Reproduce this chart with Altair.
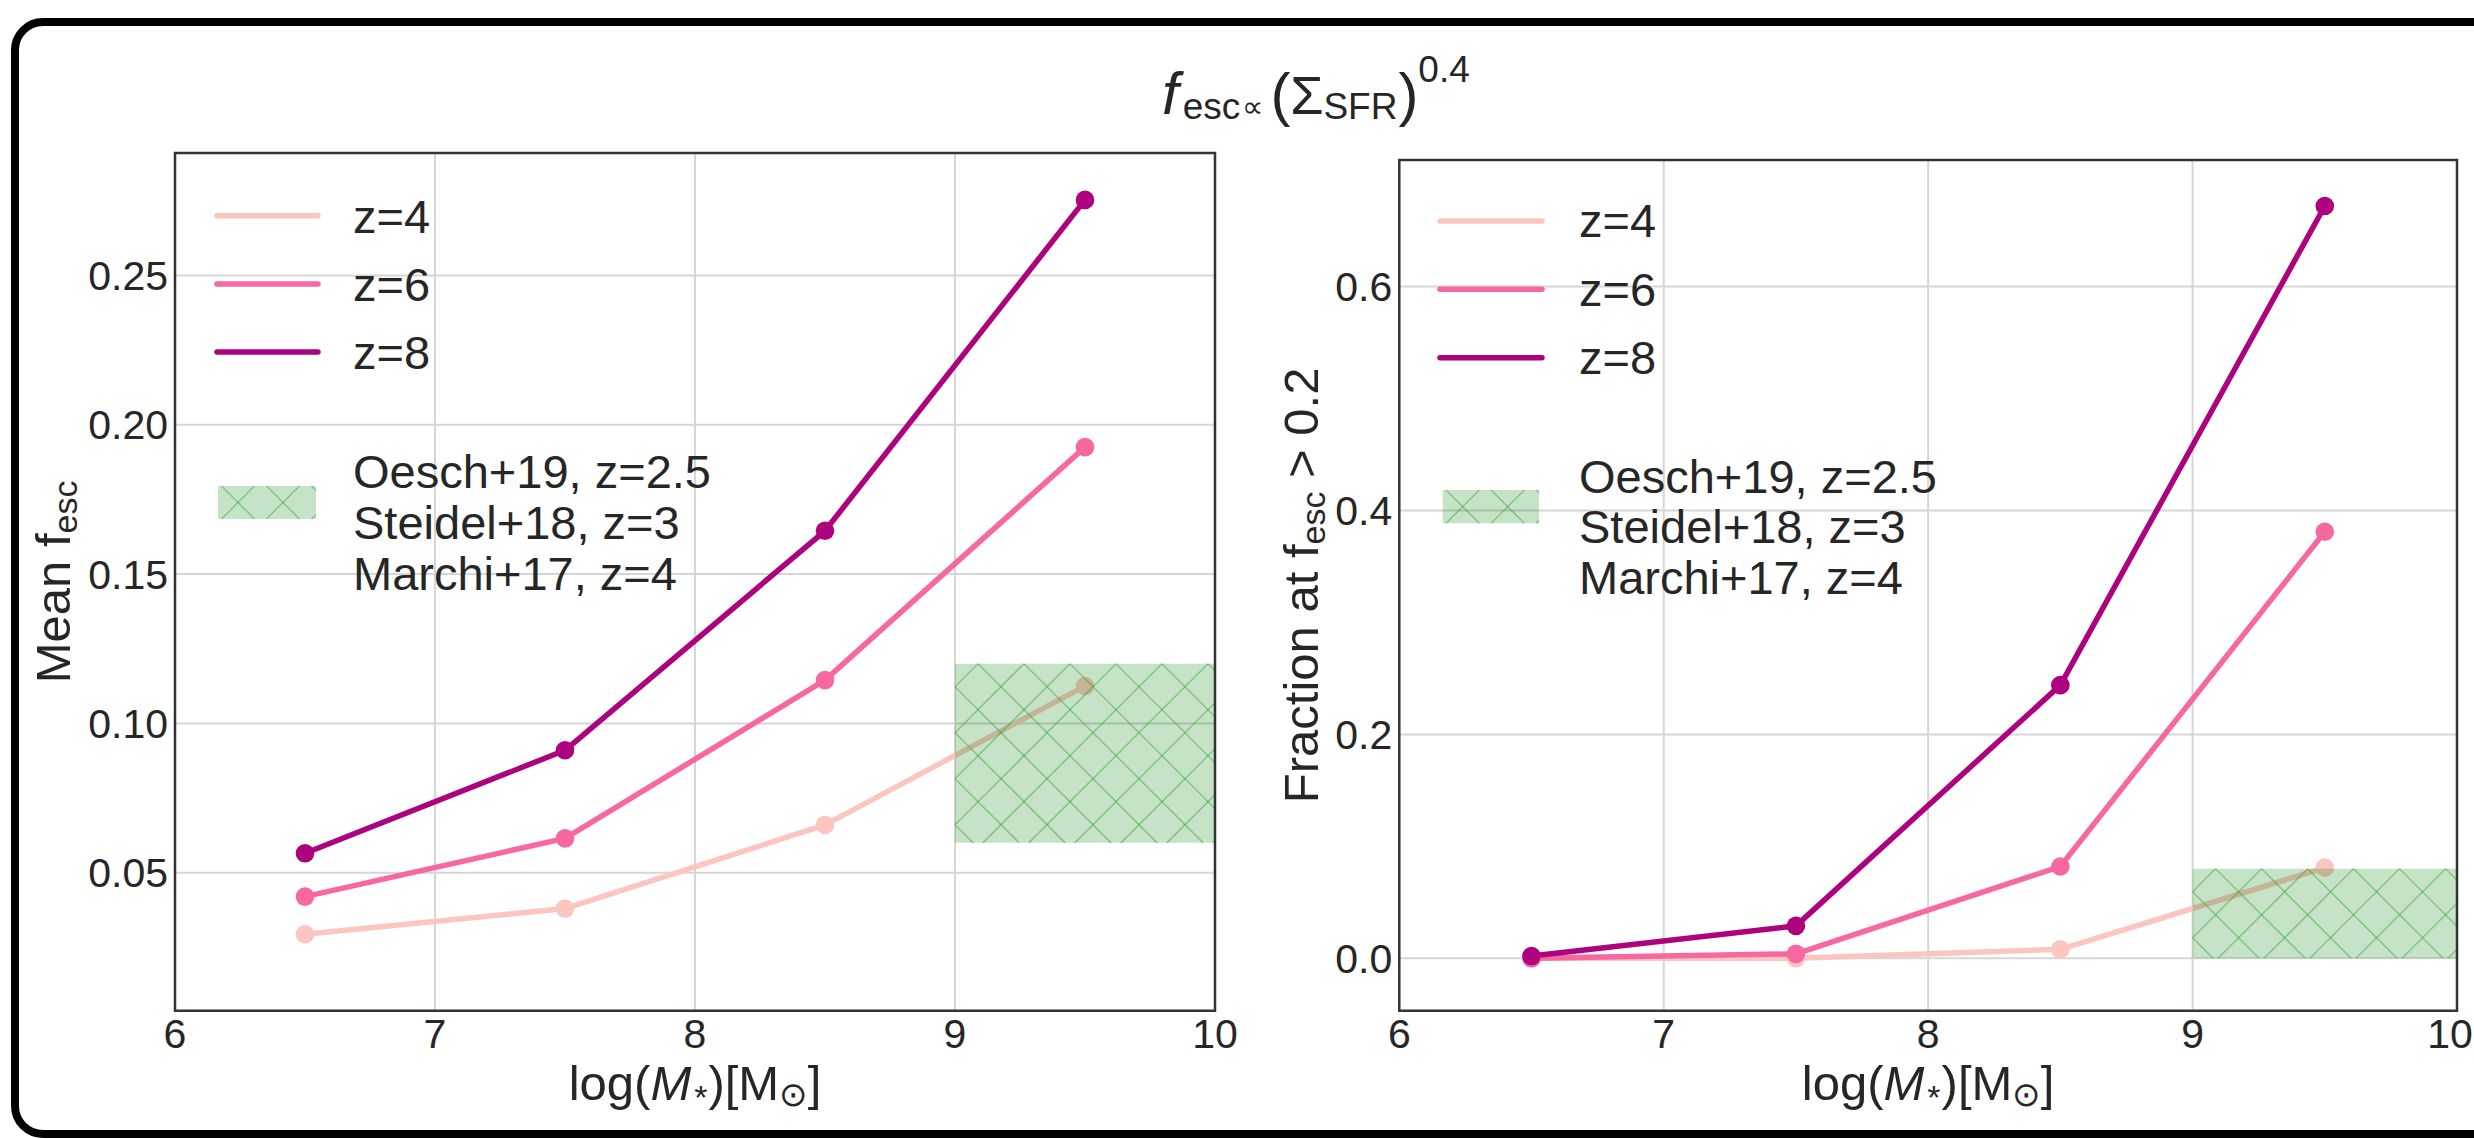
import altair as alt
import numpy as np
import pandas as pd

# ------------------------------------------------------------------ data
log_mass = [6.5, 7.5, 8.5, 9.5]
redshifts = ["z=4", "z=6", "z=8"]
line_colors = ["#fcc5c0", "#f768a1", "#ae017e"]

# mean escape fraction per stellar-mass bin
mean_fesc_z4 = [0.0294, 0.038, 0.066, 0.1125]
mean_fesc_z6 = [0.042, 0.0615, 0.1145, 0.1925]
mean_fesc_z8 = [0.0565, 0.091, 0.1645, 0.2753]

# fraction of galaxies with f_esc > 0.2
frac_fesc_z4 = [0.0, 0.0, 0.008, 0.081]
frac_fesc_z6 = [0.0, 0.004, 0.082, 0.381]
frac_fesc_z8 = [0.002, 0.029, 0.244, 0.672]

# observational constraints (shaded band)
obs_mass_range = [9.0, 10.0]
obs_mean_range = [0.06, 0.12]
obs_frac_range = [0.0, 0.08]
obs_labels = ["Oesch+19, z=2.5", "Steidel+18, z=3", "Marchi+17, z=4"]

mass_ticks = [6, 7, 8, 9, 10]
mass_tick_labels = ["6", "7", "8", "9", "10"]
mean_ticks = [0.05, 0.10, 0.15, 0.20, 0.25]
mean_tick_labels = ["0.05", "0.10", "0.15", "0.20", "0.25"]
frac_ticks = [0.0, 0.2, 0.4, 0.6]
frac_tick_labels = ["0.0", "0.2", "0.4", "0.6"]
mean_domain = [0.0038, 0.291]
frac_domain = [-0.0468, 0.7131]

# ------------------------------------------------------------------ style
CANVAS_W, CANVAS_H = 2474, 1139
FONT = "Liberation Sans"
INK = "#262626"
GRID = "#d6d6d6"
SPINE = "#333333"
OBS_FILL = "#008000"
HATCH = "#2ca02c"
TICK_FS = 41
LEGEND_FS = 47
LABEL_FS = 49
SUB_FS = 34

# plot areas on the canvas: (left, right, bottom, top) in pixels
LEFT_BOX = (175.0, 1215.0, 1010.7, 153.0)
RIGHT_BOX = (1399.3, 2457.0, 1010.7, 160.0)
XTICK_BASELINE = 1048.0

# Arial-compatible advance widths (em) used to chain rich-text pieces
GLYPH_EM = {
    " ": 0.278, "(": 0.333, ")": 0.333, "[": 0.278, "]": 0.278, "*": 0.389,
    "+": 0.584, ",": 0.278, ".": 0.278, "=": 0.584, ">": 0.584,
    "F": 0.611, "M": 0.833, "R": 0.722, "S": 0.667, "\u03a3": 0.593,
    "\u221d": 0.838, "\u2299": 0.838,
    "a": 0.556, "c": 0.5, "e": 0.556, "f": 0.278, "g": 0.556, "i": 0.222,
    "l": 0.222, "n": 0.556, "o": 0.556, "r": 0.333, "s": 0.5, "t": 0.278,
    "z": 0.5,
}


def tw(s, size):
    return sum(GLYPH_EM.get(ch, 0.556) for ch in s) * size


def run_len(pieces):
    return sum(tw(t, s) + g for t, s, _, _, g in pieces)


def run(pieces, x, y, vertical=False):
    """Lay out (text, size, baseline shift, italic, gap) pieces one after another."""
    normal, italic = [], []
    pos = y if vertical else x
    for text, size, shift, ital, gap in pieces:
        if vertical:
            row = {"px": x + shift, "py": pos, "t": text, "fs": size, "ang": 270}
            pos -= tw(text, size) + gap
        else:
            row = {"px": pos, "py": y + shift, "t": text, "fs": size, "ang": 0}
            pos += tw(text, size) + gap
        (italic if ital else normal).append(row)
    return normal, italic


def text_layer(rows, italic=False):
    df = pd.DataFrame(rows, columns=["px", "py", "t", "fs", "ang"])
    return alt.Chart(df).mark_text(
        align="left", baseline="alphabetic", font=FONT, color=INK,
        fontStyle="italic" if italic else "normal",
    ).encode(
        x=alt.X("px:Q", scale=None, axis=None),
        y=alt.Y("py:Q", scale=None, axis=None),
        text="t:N",
        size=alt.Size("fs:Q", scale=None, legend=None),
        angle=alt.Angle("ang:Q", scale=None, legend=None),
    )


def hatch_lines(x0, x1, y0, y1, period, anchor):
    """Crossed diagonal hatch segments clipped to a pixel rectangle."""
    ax, ay = anchor
    segs = []
    for slope in (1.0, -1.0):
        c_ref = ay - slope * ax
        cs = [yy - slope * xx for xx in (x0, x1) for yy in (y0, y1)]
        k0 = int(np.ceil((min(cs) - c_ref) / period))
        k1 = int(np.floor((max(cs) - c_ref) / period))
        for k in range(k0, k1 + 1):
            c = c_ref + k * period
            xa, xb = (y0 - c) / slope, (y1 - c) / slope
            lo, hi = max(x0, min(xa, xb)), min(x1, max(xa, xb))
            if hi - lo > 0.5:
                segs.append((lo, slope * lo + c, hi, slope * hi + c))
    return segs


def long_table(series):
    rows = []
    for z, vals in zip(redshifts, series):
        for m, v in zip(log_mass, vals):
            rows.append({"mass": m, "value": v, "z": z})
    return pd.DataFrame(rows)


def panel(series, obs_range, yticks, ytick_labels, ydomain, box, last_dx=0):
    x0, x1, ybot, ytop = box
    m_lo, m_hi = mass_ticks[0], mass_ticks[-1]
    v_lo, v_hi = ydomain
    xs = alt.Scale(domain=[m_lo, m_hi], range=[x0, x1], nice=False, zero=False)
    ys = alt.Scale(domain=[v_lo, v_hi], range=[ybot, ytop], nice=False, zero=False)
    color = alt.Color("z:N", scale=alt.Scale(domain=redshifts, range=line_colors), legend=None)

    # gridlines
    gx = pd.DataFrame({"m": mass_ticks[1:-1], "lo": v_lo, "hi": v_hi})
    grid_v = alt.Chart(gx).mark_rule(color=GRID, strokeWidth=2).encode(
        x=alt.X("m:Q", scale=xs, axis=None),
        y=alt.Y("lo:Q", scale=ys, axis=None),
        y2="hi:Q",
    )
    gy = pd.DataFrame({"v": yticks, "lo": m_lo, "hi": m_hi})
    grid_h = alt.Chart(gy).mark_rule(color=GRID, strokeWidth=2).encode(
        x=alt.X("lo:Q", scale=xs, axis=None),
        x2="hi:Q",
        y=alt.Y("v:Q", scale=ys, axis=None),
    )

    # tick labels placed through the panel scales
    def xlabel_layer(vals, labs, dx):
        xl = pd.DataFrame({"v": vals, "lab": labs})
        return alt.Chart(xl).mark_text(
            align="center", baseline="alphabetic", dx=dx,
            font=FONT, fontSize=TICK_FS, color=INK,
        ).encode(x=alt.X("v:Q", scale=xs, axis=None), y=alt.value(XTICK_BASELINE), text="lab:N")

    xlabels = xlabel_layer(mass_ticks[:-1], mass_tick_labels[:-1], 0)
    xlabel_last = xlabel_layer(mass_ticks[-1:], mass_tick_labels[-1:], last_dx)

    yl = pd.DataFrame({"v": yticks, "lab": ytick_labels})
    ylabels = alt.Chart(yl).mark_text(
        align="right", baseline="alphabetic", dy=14.5, font=FONT, fontSize=TICK_FS, color=INK
    ).encode(x=alt.value(x0 - 7), y=alt.Y("v:Q", scale=ys, axis=None), text="lab:N")

    df = long_table(series)
    enc = dict(
        x=alt.X("mass:Q", scale=xs, axis=None),
        y=alt.Y("value:Q", scale=ys, axis=None),
        color=color,
    )
    lines = alt.Chart(df).mark_line(strokeWidth=5.5, strokeCap="round", strokeJoin="round").encode(**enc)
    points = alt.Chart(df).mark_circle(size=346, opacity=1).encode(**enc)

    ob = pd.DataFrame({"m0": [obs_mass_range[0]], "m1": [obs_mass_range[1]],
                       "v0": [obs_range[0]], "v1": [obs_range[1]]})
    band = alt.Chart(ob).mark_rect(fill=OBS_FILL, fillOpacity=0.22, strokeWidth=0).encode(
        x=alt.X("m0:Q", scale=xs, axis=None), x2="m1:Q",
        y=alt.Y("v0:Q", scale=ys, axis=None), y2="v1:Q",
    )

    # hatch texture: 45-degree lines in screen space, expressed in data units
    def to_px(m):
        return x0 + (m - m_lo) / (m_hi - m_lo) * (x1 - x0)

    def to_py(v):
        return ybot - (v - v_lo) / (v_hi - v_lo) * (ybot - ytop)

    def from_px(p):
        return m_lo + (p - x0) / (x1 - x0) * (m_hi - m_lo)

    def from_py(p):
        return v_lo + (ybot - p) / (ybot - ytop) * (v_hi - v_lo)

    bx0, bx1 = to_px(obs_mass_range[0]), to_px(obs_mass_range[1])
    by0, by1 = to_py(obs_range[1]), to_py(obs_range[0])
    segs = hatch_lines(bx0, bx1, by0, by1, 46, (bx0 + 23, by0))
    hd = pd.DataFrame([{"a": from_px(a), "b": from_py(b), "c": from_px(c), "d": from_py(d)}
                       for a, b, c, d in segs])
    hatch = alt.Chart(hd).mark_rule(color=HATCH, strokeWidth=1.5, opacity=0.45).encode(
        x=alt.X("a:Q", scale=xs, axis=None), y=alt.Y("b:Q", scale=ys, axis=None),
        x2="c:Q", y2="d:Q",
    )

    fr = pd.DataFrame({"m0": [m_lo], "m1": [m_hi], "v0": [v_lo], "v1": [v_hi]})
    frame = alt.Chart(fr).mark_rect(fill="transparent", stroke=SPINE, strokeWidth=2.5).encode(
        x=alt.X("m0:Q", scale=xs, axis=None), x2="m1:Q",
        y=alt.Y("v0:Q", scale=ys, axis=None), y2="v1:Q",
    )
    return alt.layer(grid_h, grid_v, lines, points, band, hatch, frame,
                     xlabels, xlabel_last, ylabels)


def legend(line_x, line_ys, text_x, text_ys, patch, obs_ys):
    lx0, lx1 = line_x
    ld = pd.DataFrame({"x0": lx0, "x1": lx1, "y": line_ys, "c": line_colors})
    swatches = alt.Chart(ld).mark_rule(strokeWidth=5.5, strokeCap="round").encode(
        x=alt.X("x0:Q", scale=None, axis=None), x2="x1:Q",
        y=alt.Y("y:Q", scale=None, axis=None),
        color=alt.Color("c:N", scale=None, legend=None),
    )
    px0, px1, py0, py1 = patch
    pd_ = pd.DataFrame({"x0": [px0], "x1": [px1], "y0": [py0], "y1": [py1]})
    patch_rect = alt.Chart(pd_).mark_rect(fill=OBS_FILL, fillOpacity=0.22, strokeWidth=0).encode(
        x=alt.X("x0:Q", scale=None, axis=None), x2="x1:Q",
        y=alt.Y("y0:Q", scale=None, axis=None), y2="y1:Q",
    )
    segs = hatch_lines(px0, px1, py0, py1, 45, (px0 + 20, (py0 + py1) / 2))
    hd = pd.DataFrame(segs, columns=["a", "b", "c", "d"])
    patch_hatch = alt.Chart(hd).mark_rule(color=HATCH, strokeWidth=1.5, opacity=0.45).encode(
        x=alt.X("a:Q", scale=None, axis=None), y=alt.Y("b:Q", scale=None, axis=None),
        x2="c:Q", y2="d:Q",
    )
    rows = [{"px": text_x, "py": y, "t": t, "fs": LEGEND_FS, "ang": 0}
            for y, t in zip(text_ys, redshifts)]
    rows += [{"px": text_x, "py": y, "t": t, "fs": LEGEND_FS, "ang": 0}
             for y, t in zip(obs_ys, obs_labels)]
    return [swatches, patch_rect, patch_hatch, text_layer(rows)]


left_panel = panel([mean_fesc_z4, mean_fesc_z6, mean_fesc_z8], obs_mean_range,
                   mean_ticks, mean_tick_labels, mean_domain, LEFT_BOX)
# the last tick label of the right panel sits at the canvas edge: nudge it inside
right_panel = panel([frac_fesc_z4, frac_fesc_z6, frac_fesc_z8], obs_frac_range,
                    frac_ticks, frac_tick_labels, frac_domain, RIGHT_BOX, last_dx=-7)

left_legend = legend((217, 318), [215.7, 284.0, 352.0], 353, [233.0, 301.3, 369.3],
                     (218, 316, 486, 519), [488.0, 539.0, 590.0])
right_legend = legend((1440, 1542), [221.0, 289.3, 357.7], 1579, [237.3, 305.6, 374.0],
                      (1442.7, 1539, 490, 523.3), [492.7, 543.3, 594.0])

# ---- rich-text titles
normal_rows, italic_rows = [], []

title_pieces = [("f", 60, 0, True, 4), ("esc", 37, 5, False, 2), ("\u221d", 30, 3, False, 3),
                ("(", 60, 1, False, 0), ("\u03a3", 54, 0, False, 1), ("SFR", 37, 5, False, 1),
                (")", 60, 1, False, 0), ("0.4", 37, -32, False, 0)]
n, i = run(title_pieces, 1162, 114)
normal_rows += n
italic_rows += i

for box in (LEFT_BOX, RIGHT_BOX):
    xt = [("log(", LABEL_FS, 0, False, 0), ("M", LABEL_FS, 0, True, 3), ("*", SUB_FS, 9, False, 1),
          (")[M", LABEL_FS, 0, False, 0), ("\u2299", SUB_FS, 6, False, 0), ("]", LABEL_FS, 0, False, 0)]
    cx = (box[0] + box[1]) / 2
    n, i = run(xt, cx - run_len(xt) / 2, 1100)
    normal_rows += n
    italic_rows += i

yl = [("Mean f", LABEL_FS, 0, False, 0), ("esc", SUB_FS, 7, False, 0)]
cy = (LEFT_BOX[2] + LEFT_BOX[3]) / 2
n, _ = run(yl, 70, cy + run_len(yl) / 2, vertical=True)
normal_rows += n

yr = [("Fraction at f", LABEL_FS, 0, False, 0), ("esc", SUB_FS, 7, False, tw(" ", LABEL_FS)),
      ("> 0.2", LABEL_FS, 0, False, 0)]
cy = (RIGHT_BOX[2] + RIGHT_BOX[3]) / 2
n, _ = run(yr, 1318, cy + run_len(yr) / 2, vertical=True)
normal_rows += n

titles = [text_layer(normal_rows), text_layer(italic_rows, italic=True)]

# rounded outer frame around the figure
one = pd.DataFrame({"k": [0]})
border = alt.Chart(one).mark_rect(
    fill="transparent", stroke="#000000", strokeWidth=8, cornerRadius=28
).encode(x=alt.value(15), x2=alt.value(2650), y=alt.value(22), y2=alt.value(1134))

chart = alt.layer(
    left_panel, right_panel, *left_legend, *right_legend, *titles, border
).resolve_scale(
    x="independent", y="independent"
).properties(
    width=CANVAS_W, height=CANVAS_H,
    autosize=alt.AutoSizeParams(type="none"), padding=0,
).configure_view(stroke="transparent")

chart.save("out.html", embed_options={"renderer": "svg", "actions": False})
